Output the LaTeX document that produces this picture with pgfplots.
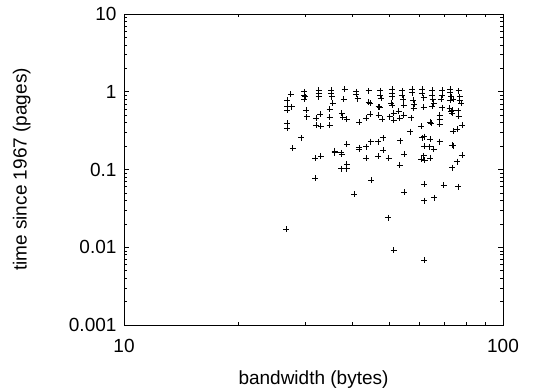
\documentclass[border=0pt]{standalone}
\usepackage{pgfplots}
\pgfplotsset{compat=1.18}
\usepackage{fontspec}
\setmainfont{Liberation Sans}
\pgfplotstableread{
x y
27.0 0.781
27.0 0.654
27.0 0.581
27.72 0.641
27.55 0.924
26.9 0.392
26.9 0.338
27.88 0.187
26.78 0.0170
29.94 1.0
29.94 0.906
29.94 0.797
30.06 0.862
30.24 0.581
30.37 0.477
29.34 0.256
32.60 1.05
32.60 0.952
32.60 0.862
32.14 0.454
32.93 0.511
32.14 0.369
33.07 0.362
31.95 0.139
33.07 0.149
31.95 0.0769
35.21 1.05
35.21 0.952
35.35 0.862
34.86 0.593
34.86 0.468
35.56 0.708
34.86 0.369
35.93 0.173
35.93 0.164
38.18 1.072
37.95 0.797
37.56 0.526
37.80 0.468
38.73 0.445
37.42 0.164
37.56 0.158
38.73 0.210
37.42 0.103
38.73 0.103
38.73 0.117
40.99 1.0
40.99 0.924
41.32 0.813
41.74 0.403
40.49 0.0478
41.74 0.181
41.74 0.191
44.18 1.03
44.18 0.729
44.63 0.708
43.56 0.454
44.63 0.516
43.56 0.196
44.81 0.228
43.56 0.139
44.90 0.0731
47.43 1.03
47.43 0.906
47.62 0.82
46.95 0.641
47.24 0.629
46.95 0.501
47.91 0.441
46.76 0.228
48.21 0.256
46.76 0.149
48.21 0.178
50.92 1.072
50.92 0.952
50.92 0.862
50.61 0.708
50.92 0.674
50.20 0.477
51.44 0.526
51.44 0.432
49.90 0.139
49.70 0.0240
51.44 0.0092
54.12 1.03
54.12 0.906
54.45 0.797
54.68 0.674
53.03 0.564
53.35 0.454
54.68 0.501
53.57 0.234
53.35 0.114
54.89 0.158
54.89 0.0508
57.51 1.072
57.51 0.971
57.85 0.781
58.32 0.694
58.09 0.610
57.15 0.463
56.93 0.306
61.10 1.072
61.10 0.952
61.72 0.837
61.72 0.629
60.73 0.362
61.10 0.256
61.97 0.264
61.97 0.200
60.84 0.135
61.72 0.150
62.09 0.132
61.97 0.0643
61.97 0.0397
61.97 0.00685
64.93 1.05
64.93 0.906
65.20 0.797
65.59 0.708
64.93 0.654
64.28 0.403
64.66 0.392
64.28 0.244
64.01 0.196
64.28 0.139
65.59 0.183
65.87 0.0434
69.01 1.05
69.01 0.906
68.59 0.797
69.01 0.623
68.03 0.501
68.03 0.441
68.03 0.384
68.03 0.228
69.71 0.0631
72.60 1.072
72.60 0.971
72.90 0.862
72.60 0.781
72.31 0.610
72.90 0.553
73.49 0.526
73.79 0.797
73.49 0.581
73.34 0.206
73.79 0.202
73.49 0.106
73.79 0.312
76.37 1.03
76.84 0.862
76.84 0.781
77.62 0.708
76.06 0.570
76.37 0.486
75.60 0.328
77.94 0.373
75.60 0.126
77.94 0.153
76.06 0.060
}\datatable
\begin{document}
\begin{tikzpicture}
\useasboundingbox (0,0) rectangle (542pt,389pt);
\begin{axis}[
  at={(124pt,64pt)}, anchor=south west,
  scale only axis, width=379pt, height=311pt,
  xmode=log, ymode=log,
  xmin=10, xmax=100, ymin=0.001, ymax=10,
  xtick={10,100}, xticklabels={10,100},
  ytick={0.001,0.01,0.1,1,10}, yticklabels={0.001,0.01,0.1,1,10},
  minor xtick={20,30,40,50,60,70,80,90},
  minor ytick={0.002,0.003,0.004,0.005,0.006,0.007,0.008,0.009,0.02,0.03,0.04,0.05,0.06,0.07,0.08,0.09,0.2,0.3,0.4,0.5,0.6,0.7,0.8,0.9,2,3,4,5,6,7,8,9},
  tick align=inside, major tick length=5pt, minor tick length=3pt,
  tick style={black, line width=0.6pt},
  axis line style={line width=0.9pt},
  tick label style={font=\fontsize{19}{22}\selectfont},
  xticklabel style={yshift=-11pt},
  yticklabel style={xshift=-4pt},
  label style={font=\fontsize{19}{22}\selectfont},
  xlabel={bandwidth (bytes)},
  ylabel={time since 1967 (pages)},
  xlabel style={at={(axis description cs:0.5,-0.177)}, anchor=center},
  ylabel style={at={(axis description cs:-0.27,0.5)}, anchor=center, rotate=0},
  /pgf/number format/assume math mode=true,
]
\addplot[only marks, mark=+, mark size=3pt, black, line width=0.75pt] table[x=x,y=y] {\datatable};
\end{axis}
\end{tikzpicture}
\end{document}
